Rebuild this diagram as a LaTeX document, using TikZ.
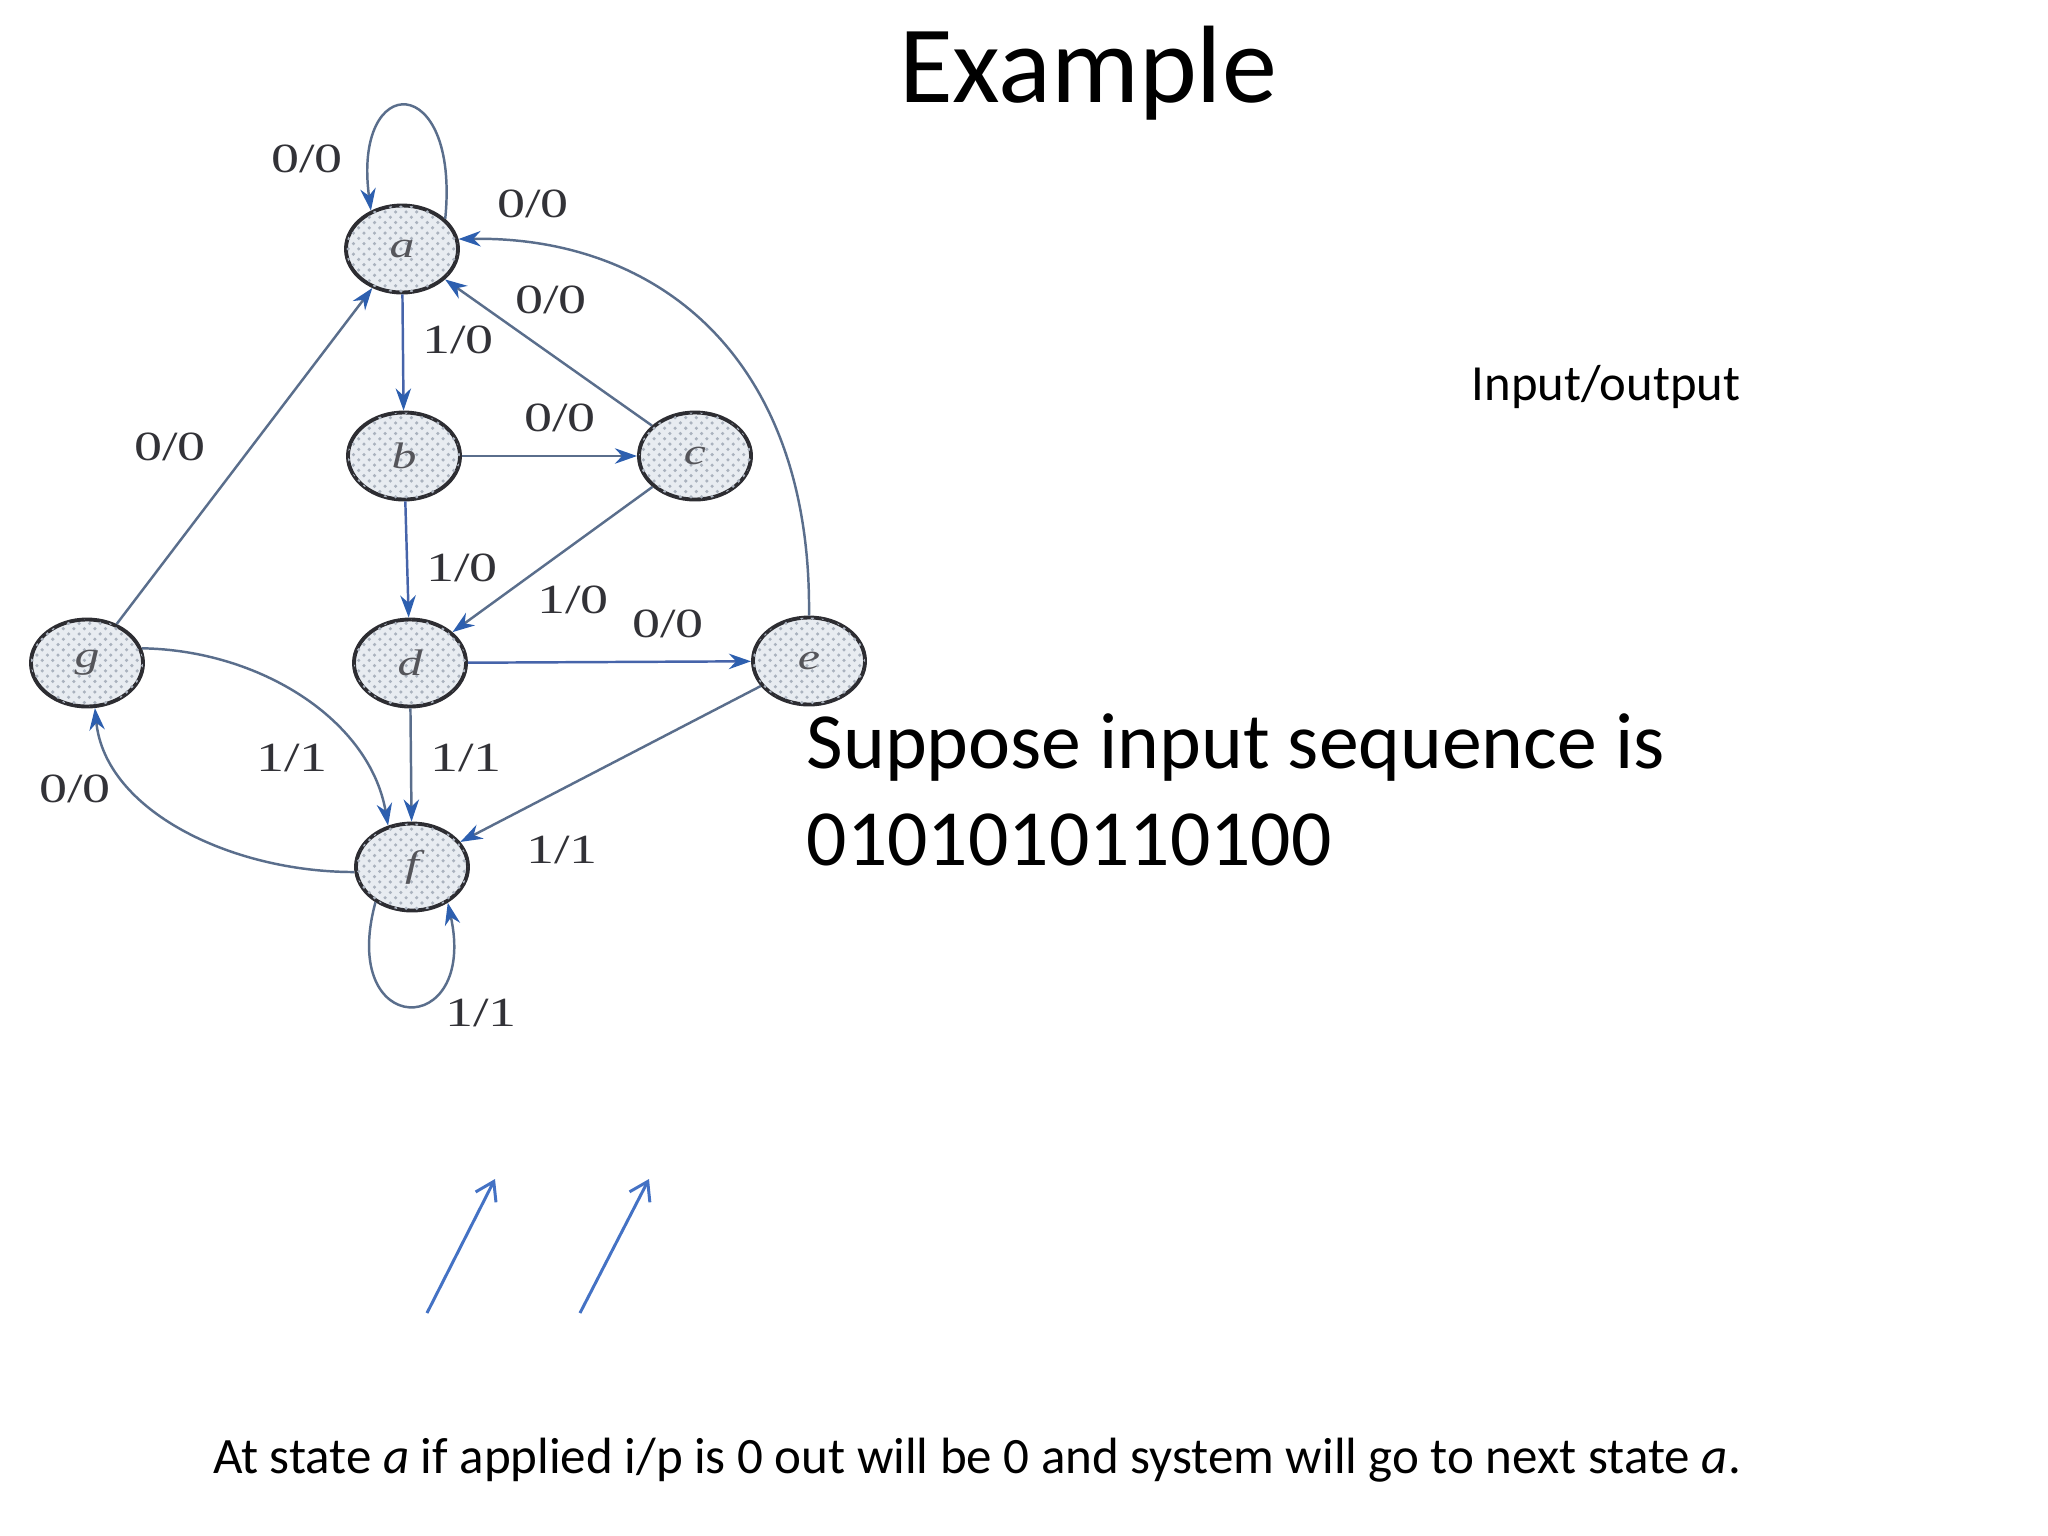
\documentclass[tikz,border=0pt]{standalone}
\usepackage{fontspec}
\setmainfont{Carlito}
\newfontfamily\diagfont{Liberation Serif}
\usetikzlibrary{arrows.meta,shapes.geometric,patterns}
\definecolor{edgecol}{RGB}{90,110,140}
\definecolor{blueedgecol}{RGB}{70,100,170}
\definecolor{tipcol}{RGB}{45,95,175}
\definecolor{nodefill}{RGB}{232,236,241}
\definecolor{nodedot}{RGB}{170,178,190}
\definecolor{nodedraw}{RGB}{45,45,50}
\definecolor{statetext}{RGB}{85,85,90}
\definecolor{lblcol}{RGB}{50,50,55}
\definecolor{officeblue}{RGB}{68,114,196}
\newcommand\hstretch[1]{\scalebox{1.35}[1]{#1}}
\tikzset{
  fsmstate/.style={ellipse, draw=nodedraw, line width=1.1pt, fill=nodefill,
    postaction={pattern=crosshatch dots, pattern color=nodedot},
    minimum width=1.12cm, minimum height=0.87cm, inner sep=0pt,
    font=\diagfont\itshape\fontsize{10.5}{12}\selectfont, text=statetext},
  conn/.style={draw=edgecol, line width=0.7pt,
    -{Stealth[length=6.3pt,width=4.4pt,color=tipcol]}},
  blueedge/.style={draw=blueedgecol},
  lbl/.style={font=\diagfont\fontsize{11.8}{13}\selectfont, text=lblcol, inner sep=0pt},
  slidetext/.style={inner sep=0pt, text=black},
  bluearrow/.style={draw=officeblue, line width=0.85pt,
    -{Straight Barb[length=5pt,width=6.5pt]}}
}
\begin{document}
\begin{tikzpicture}[x=0.01cm,y=-0.01cm]
\useasboundingbox (0,0) rectangle (2048,1536);

% states
\node[fsmstate] (a) at (402,249) {\hstretch{a}};
\node[fsmstate] (b) at (404,456) {\hstretch{b}};
\node[fsmstate] (c) at (695,456) {\hstretch{c}};
\node[fsmstate] (d) at (410,663) {\hstretch{d}};
\node[fsmstate] (e) at (809,661) {\hstretch{e}};
\node[fsmstate] (g) at (87,663) {\hstretch{g}};
\node[fsmstate] (f) at (412,867) {\hstretch{f}};

% transitions
\draw[conn] (a.35) .. controls (460,70) and (352,70) .. (a.129)
  node[lbl] at (307,159) {\hstretch{0/0}};
\draw[conn] (e.90) .. controls (812,360) and (660,236) .. (a.10)
  node[lbl] at (533,204) {\hstretch{0/0}};
\draw[conn] (c) -- (a) node[lbl] at (551,300) {\hstretch{0/0}};
\draw[conn,blueedge] (a) -- (b) node[lbl] at (458,340) {\hstretch{1/0}};
\draw[conn] (b) -- (c) node[lbl] at (560,418) {\hstretch{0/0}};
\draw[conn] (g) -- (a) node[lbl] at (170,447) {\hstretch{0/0}};
\draw[conn,blueedge] (b) -- (d) node[lbl] at (462,568) {\hstretch{1/0}};
\draw[conn] (c) -- (d) node[lbl] at (573,600) {\hstretch{1/0}};
\draw[conn,blueedge] (d) -- (e) node[lbl] at (668,624) {\hstretch{0/0}};
\draw[conn] (g.15) .. controls (260,650) and (370,720) .. (f.120)
  node[lbl] at (292,758) {\hstretch{1/1}};
\draw[conn] (d) -- (f) node[lbl] at (466,758) {\hstretch{1/1}};
\draw[conn] (f.185) .. controls (230,872) and (105,810) .. (g.-80)
  node[lbl] at (75,789) {\hstretch{0/0}};
\draw[conn] (e) -- (f) node[lbl] at (562,850) {\hstretch{1/1}};
\draw[conn] (f.224) .. controls (338,1040) and (478,1040) .. (f.-45)
  node[lbl] at (481,1013) {\hstretch{1/1}};

% slide texts
\node[slidetext, anchor=base, font=\fontsize{31.3}{37}\selectfont] (title) at (1088,102) {Example};
\node[slidetext, anchor=base, font=\fontsize{14.4}{17}\selectfont] (io) at (1606,400) {Input/output};
\node[slidetext, anchor=base west, font=\fontsize{22.65}{27.6}\selectfont] (seq1) at (806,768) {Suppose input sequence is};
\node[slidetext, anchor=base west, font=\fontsize{22.65}{27.6}\selectfont] (seq2) at (806,865) {0101010110100};
\node[slidetext, anchor=base, font=\fontsize{14.5}{17}\selectfont] (note) at (977,1473)
  {At state \textit{a} if applied i/p is 0 out will be 0 and system will go to next state \textit{a}.};

% pointer arrows
\coordinate (p1s) at (427,1313);
\coordinate (p1e) at (495,1179);
\coordinate (p2s) at (580,1313);
\coordinate (p2e) at (649,1179);
\draw[bluearrow] (p1s) -- (p1e);
\draw[bluearrow] (p2s) -- (p2e);
\end{tikzpicture}
\end{document}
